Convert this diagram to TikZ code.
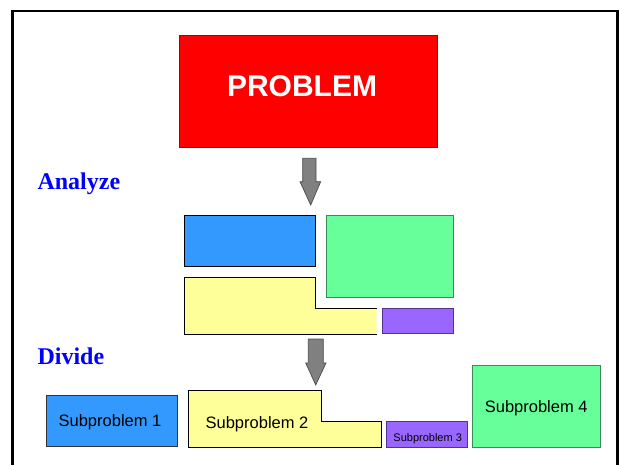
\documentclass[tikz,border=0pt]{standalone}
\usepackage{fontspec}
\setmainfont{Liberation Serif}
\setsansfont{Liberation Sans}
\definecolor{probred}{HTML}{FF0000}
\definecolor{partblue}{HTML}{3399FF}
\definecolor{partyellow}{HTML}{FFFF99}
\definecolor{partpurple}{HTML}{9966FF}
\definecolor{partgreen}{HTML}{66FF99}
\definecolor{greenedge}{HTML}{3A8A5A}
\definecolor{purpleedge}{HTML}{553388}
\definecolor{headblue}{HTML}{0000FF}
\definecolor{arrowgray}{HTML}{808080}
\tikzset{
  frame/.style={draw=black, line width=2.5pt},
  box/.style={line width=0.9pt},
  blockarrow/.style={fill=arrowgray, draw=black!70, line width=0.7pt, line join=miter},
  heading/.style={inner sep=0pt, text=headblue, font=\fontsize{24}{26}\selectfont\bfseries},
  sublabel/.style={inner sep=0pt, font=\sffamily\fontsize{16.5}{18}\selectfont},
}
\begin{document}
\begin{tikzpicture}[x=1pt,y=-1pt]
\useasboundingbox (0,0) rectangle (620,465);
\fill[white] (0,0) rectangle (620,465);

% outer frame, open at the bottom
\draw[frame] (12.7,475) -- (12.7,10.8) -- (617.5,10.8) -- (617.5,475);

% problem box
\draw[box, fill=probred, draw=black!80] (179,35) rectangle (437,147);
\node[inner sep=0pt, anchor=base, text=white, font=\sffamily\bfseries\fontsize{30}{33}\selectfont] (problem) at (302,96.7) {PROBLEM};

% first block arrow
\draw[blockarrow] (302.7,158.3) -- (316,158.3) -- (316,181.7) -- (320.7,181.7)
  -- (310.7,205) -- (300,181.7) -- (302.7,181.7) -- cycle;

\node[heading, anchor=base west] (analyze) at (37.3,189.5) {Analyze};

% analysed parts
\draw[box, fill=partblue, draw=black] (184,215.3) rectangle (315.7,266);
\draw[box, fill=partgreen, draw=greenedge] (326,215.3) rectangle (453.3,297.7);
\fill[partyellow] (184,277.7) -- (315.7,277.7) -- (315.7,308.3) -- (376.7,308.3)
  -- (376.7,334.3) -- (184,334.3) -- cycle;
\draw[box, draw=black] (376.7,308.3) -- (315.7,308.3) -- (315.7,277.7) -- (184,277.7)
  -- (184,334.3) -- (376.7,334.3);
\draw[box, fill=partpurple, draw=purpleedge] (382.3,308.3) rectangle (453.3,333.3);

% second block arrow
\draw[blockarrow] (308.3,339) -- (323.3,339) -- (323.3,363) -- (326,363)
  -- (315.7,385) -- (305.7,363) -- (308.3,363) -- cycle;

\node[heading, anchor=base west] (divide) at (37.3,364.3) {Divide};

% subproblems
\draw[box, fill=partblue, draw=black!80] (46.3,395.3) rectangle (177.8,446.5);
\node[sublabel, anchor=base] (sub1) at (110,426) {Subproblem 1};

\draw[box, fill=partyellow, draw=black] (188.3,390.7) -- (321.2,390.7) -- (321.2,421.2)
  -- (381.3,421.2) -- (381.3,447) -- (188.3,447) -- cycle;
\node[sublabel, anchor=base] (sub2) at (257,428.3) {Subproblem 2};

\draw[box, fill=partpurple, draw=purpleedge] (386.9,421.7) rectangle (467.6,447);
\node[sublabel, anchor=base, font=\sffamily\fontsize{11}{12}\selectfont] (sub3) at (427.7,441) {Subproblem 3};

\draw[box, fill=partgreen, draw=greenedge] (472.5,365) rectangle (600,447);
\node[sublabel, anchor=base] (sub4) at (536.2,412.7) {Subproblem 4};
\end{tikzpicture}
\end{document}
